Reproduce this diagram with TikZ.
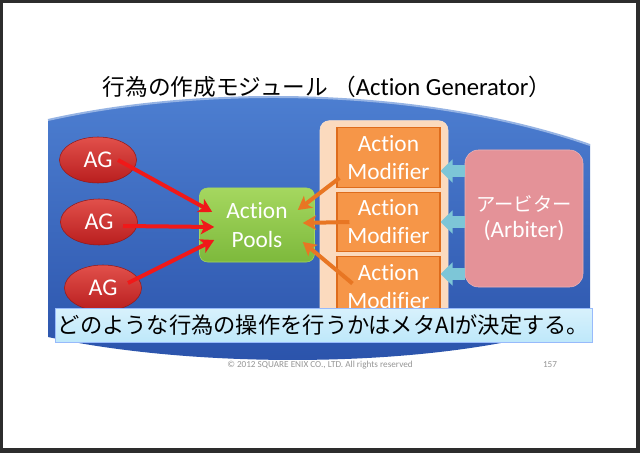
\documentclass[tikz,border=0pt]{standalone}
\usepackage{fontspec}
\setmainfont{Carlito}[Ligatures=NoCommon]
\newfontfamily\jp{Noto Sans CJK JP}
\usetikzlibrary{arrows.meta,shapes.geometric,calc}

\definecolor{framegray}{RGB}{45,45,45}
\definecolor{slideblue}{RGB}{78,128,210}
\definecolor{slidebluedark}{RGB}{42,82,170}
\definecolor{agred}{RGB}{185,30,30}
\definecolor{agredlight}{RGB}{225,80,75}
\definecolor{poolgreen}{RGB}{125,185,60}
\definecolor{poolgreenlight}{RGB}{165,215,95}
\definecolor{modorange}{RGB}{246,150,72}
\definecolor{modedge}{RGB}{222,108,28}
\definecolor{colpeach}{RGB}{251,218,190}
\definecolor{arbpink}{RGB}{228,146,152}
\definecolor{arrred}{RGB}{240,25,25}
\definecolor{arrorange}{RGB}{232,118,35}
\definecolor{arrblue}{RGB}{125,198,215}
\definecolor{bannercyan}{RGB}{190,232,250}
\definecolor{copygray}{RGB}{150,150,150}

\tikzset{
  agnode/.style={ellipse, minimum width=57.75pt, minimum height=34.5pt, inner sep=0pt,
    top color=agredlight, bottom color=agred, draw=agred!80!black, thin,
    text=white, font=\fontsize{18}{20}\selectfont},
  poolbox/.style={rectangle, rounded corners=6pt, minimum width=86.25pt, minimum height=55.5pt,
    top color=poolgreenlight, bottom color=poolgreen, draw=poolgreenlight, thin,
    text=white, align=center, font=\fontsize{17.5}{22}\selectfont},
  colbox/.style={rectangle, rounded corners=7pt, minimum width=96pt, minimum height=161pt,
    fill=colpeach, draw=colpeach!80!white},
  modbox/.style={rectangle, minimum width=77.25pt, minimum height=44.5pt, inner sep=0pt,
    fill=modorange, draw=modedge, line width=0.8pt,
    text=white, align=center, font=\fontsize{17.5}{21}\selectfont},
  arbbox/.style={rectangle, rounded corners=10pt, minimum width=88.5pt, minimum height=102.75pt,
    fill=arbpink, draw=arbpink!70!white, thin, text=white, align=center},
  redarrow/.style={draw=arrred, line width=3pt, -{Stealth[length=10pt,width=11pt,inset=2.5pt]}},
  orangearrow/.style={draw=arrorange, line width=3pt, -{Stealth[length=10pt,width=11pt,inset=2.5pt]}},
  bluearrow/.style={draw=arrblue, line width=8.5pt, -{Triangle[length=9pt,width=17pt]}},
  banner/.style={rectangle, minimum width=402.75pt, minimum height=25.5pt, inner sep=0pt,
    top color=bannercyan!60!white, bottom color=bannercyan, draw=bannercyan!80!blue, thin,
    font=\jp\fontsize{16.7}{18}\selectfont}
}

\begin{document}
\begin{tikzpicture}[x=0.75pt, y=-0.75pt]
  % slide frame
  \fill[framegray] (0,0) rectangle (640,453);
  \fill[white] (3,3) rectangle (636,448);
  \useasboundingbox (0,0) rectangle (640,453);

  \node (title) at (327,87) {\jp\fontsize{17}{19}\selectfont 行為の作成モジュール （{\fontspec{Carlito}[Ligatures=NoCommon]\fontsize{18.5}{19}\selectfont Action Generator}）};

  % blue background
  \shade[top color=slideblue, bottom color=slidebluedark]
    (48,120) .. controls (200,86) and (420,86) .. (590,145) -- (590,320)
    .. controls (450,370) and (200,370) .. (48,337) -- cycle;
  \draw[slideblue!60!white, line width=1.5pt] (48,120) .. controls (200,86) and (420,86) .. (590,145);

  % modifiers
  \node[colbox] (modcol) at (384,228) {};
  \node[modbox] (mod1) at (388.5,157.5) {Action\\Modifier};
  \node[modbox] (mod2) at (388.5,222) {Action\\Modifier};
  \node[modbox] (mod3) at (388.5,286.5) {Action\\Modifier};

  \node[poolbox] (pools) at (257,225) {Action\\Pools};

  \node[agnode] (ag1) at (98,160) {AG};
  \node[agnode] (ag2) at (99,222) {AG};
  \node[agnode] (ag3) at (103,288) {AG};

  \node[arbbox] (arb) at (524,218.5) {{\jp\fontsize{14.5}{19.5}\selectfont アービター}\\[5pt]
    {\fontsize{17.5}{19.5}\selectfont (Arbiter)}};

  % generators to pools
  \draw[redarrow] ($(ag1.center)+(20,0)$) -- ($(pools.west)+(13,-13)$);
  \draw[redarrow] ($(ag2.center)+(24,4)$) -- ($(pools.west)+(15,2)$);
  \draw[redarrow] ($(ag3.center)+(25,-5)$) -- ($(pools.west)+(15,15)$);

  % modifiers to pools
  \draw[orangearrow] ($(mod1.west)+(3,20.5)$) -- ($(pools.east)+(-17,-15)$);
  \draw[orangearrow] ($(mod2.west)+(13,0)$) -- ($(pools.east)+(-12,-2)$);
  \draw[orangearrow] ($(mod3.west)+(16,-3)$) -- ($(pools.east)+(-12,17)$);

  % arbiter to modifiers
  \draw[bluearrow] ($(arb.west)+(0,-47.5)$) -- ($(mod1.east)+(0,13.5)$);
  \draw[bluearrow] ($(arb.west)+(0,3.5)$) -- ($(mod2.east)+(0,0)$);
  \draw[bluearrow] ($(arb.west)+(0,55.5)$) -- ($(mod3.east)+(0,-12.5)$);

  \node[banner] (note) at (323.5,325) {どのような行為の操作を行うかはメタAIが決定する。};

  \node[text=copygray, font=\fontsize{6.9}{8}\selectfont] (copy) at (320,365)
    {\textcopyright{} 2012 SQUARE ENIX CO., LTD. All rights reserved};
  \node[text=copygray, font=\fontsize{6.9}{8}\selectfont] (page) at (550,365) {157};
\end{tikzpicture}
\end{document}
